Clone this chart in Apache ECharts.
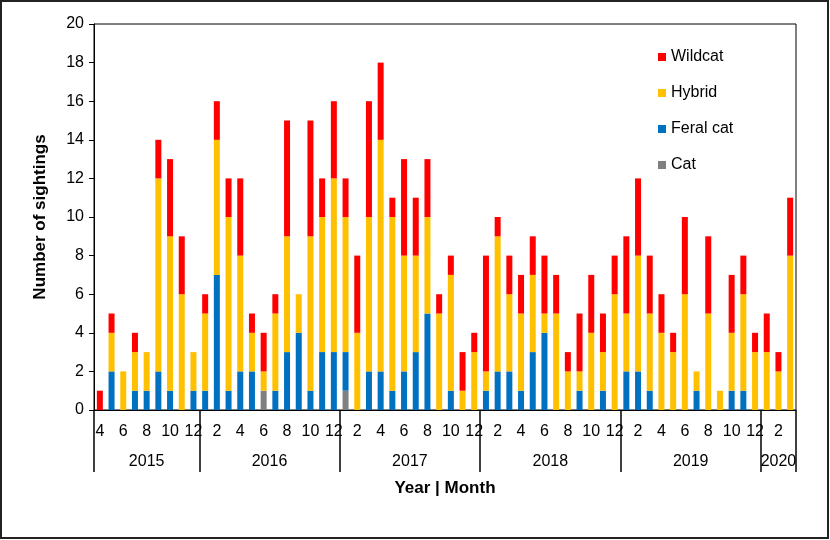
<!DOCTYPE html>
<html>
<head>
<meta charset="utf-8">
<script src="https://cdn.jsdelivr.net/npm/echarts@6/dist/echarts.min.js"></script>
<style>
  html, body { margin: 0; padding: 0; background: #fff; }
  #main { width: 830px; height: 540px; }
</style>
</head>
<body>
<div id="main"></div>
<script>
// months Apr 2015 .. Mar 2020
const years = ['2015', '2016', '2017', '2018', '2019', '2020'];
const monthsInYear = [9, 12, 12, 12, 12, 3];
const firstMonth = 4;

const cat = [
  0, 0, 0, 0, 0, 0, 0, 0, 0,
  0, 0, 0, 0, 0, 1, 0, 0, 0, 0, 0, 0,
  1, 0, 0, 0, 0, 0, 0, 0, 0, 0, 0, 0,
  0, 0, 0, 0, 0, 0, 0, 0, 0, 0, 0, 0,
  0, 0, 0, 0, 0, 0, 0, 0, 0, 0, 0, 0,
  0, 0, 0
];
const feralCat = [
  0, 2, 0, 1, 1, 2, 1, 0, 1,
  1, 7, 1, 2, 2, 0, 1, 3, 4, 1, 3, 3,
  2, 0, 2, 2, 1, 2, 3, 5, 0, 1, 0, 0,
  1, 2, 2, 1, 3, 4, 0, 0, 1, 0, 1, 0,
  2, 2, 1, 0, 0, 0, 1, 0, 0, 1, 1, 0,
  0, 0, 0
];
const hybrid = [
  0, 2, 2, 2, 2, 10, 8, 6, 2,
  4, 7, 9, 6, 2, 1, 4, 6, 2, 8, 7, 9,
  7, 4, 8, 12, 9, 6, 5, 5, 5, 6, 1, 3,
  1, 7, 4, 4, 4, 1, 5, 2, 1, 4, 2, 6,
  3, 6, 4, 4, 3, 6, 1, 5, 1, 3, 5, 3,
  3, 2, 8
];
const wildcat = [
  1, 1, 0, 1, 0, 2, 4, 3, 0,
  1, 2, 2, 4, 1, 2, 1, 6, 0, 6, 2, 4,
  2, 4, 6, 4, 1, 5, 3, 3, 1, 1, 2, 1,
  6, 1, 2, 2, 2, 3, 2, 1, 3, 3, 2, 2,
  4, 4, 3, 2, 1, 4, 0, 4, 0, 3, 2, 1,
  2, 1, 3
];

// month categories and the half-month grid used for the year row
const monthCats = [];
const monthNums = [];
const yearPoints = [];
const yearBounds = [0];
let m = 0;
years.forEach((y, yi) => {
  const start = yi === 0 ? firstMonth : 1;
  for (let k = 0; k < monthsInYear[yi]; k++) {
    monthCats.push(y + '-' + (start + k));
    monthNums.push(start + k);
  }
  m += monthsInYear[yi];
  yearBounds.push(m * 2);
});
for (let i = 0; i <= m * 2; i++) yearPoints.push('');
let acc = 0;
years.forEach((y, yi) => {
  yearPoints[acc * 2 + monthsInYear[yi]] = y;
  acc += monthsInYear[yi];
});

const font = 'Liberation Sans, Arial, sans-serif';

const chart = echarts.init(document.getElementById('main'));
const mkSeries = (name, data, color) => ({
  name: name,
  type: 'bar',
  stack: 'all',
  data: data,
  barWidth: 6,
  itemStyle: { color: color },
  xAxisIndex: 0
});

chart.setOption({
  animation: false,
  textStyle: { fontFamily: font },
  grid: {
    left: 94, right: 34, top: 24, bottom: 130,
    show: true, borderColor: '#000', borderWidth: 1
  },
  legend: {
    orient: 'vertical',
    left: 653,
    top: 44,
    itemWidth: 8,
    itemHeight: 8,
    itemGap: 20,
    icon: 'rect',
    data: ['Wildcat', 'Hybrid', 'Feral cat', 'Cat'],
    textStyle: { fontSize: 16, color: '#000', fontFamily: font }
  },
  xAxis: [
    {
      type: 'category',
      position: 'bottom',
      data: monthCats,
      axisLine: { onZero: false, lineStyle: { color: '#000', width: 1 } },
      axisTick: { interval: 0, length: 4, lineStyle: { color: '#000' } },
      axisLabel: {
        interval: 0,
        margin: 14,
        fontSize: 16,
        color: '#000',
        formatter: (v, i) => (monthNums[i] % 2 === 0 ? String(monthNums[i]) : '')
      }
    },
    {
      type: 'category',
      position: 'bottom',
      boundaryGap: false,
      data: yearPoints,
      axisLine: { show: false, onZero: false },
      axisTick: {
        show: true,
        length: 62,
        interval: (i) => yearBounds.indexOf(i) >= 0,
        lineStyle: { color: '#000', width: 1.5 }
      },
      axisLabel: { interval: 0, margin: 44, fontSize: 16, color: '#000' },
      name: 'Year | Month',
      nameLocation: 'middle',
      nameGap: 70,
      nameTextStyle: { fontSize: 17, fontWeight: 'bold', color: '#000' }
    }
  ],
  yAxis: {
    type: 'value',
    min: 0,
    max: 20,
    interval: 2,
    splitLine: { show: false },
    axisLine: { show: true, lineStyle: { color: '#000' } },
    axisTick: { show: true, length: 5, lineStyle: { color: '#000' } },
    axisLabel: { fontSize: 16, color: '#000', margin: 10 },
    name: 'Number of sightings',
    nameLocation: 'middle',
    nameGap: 45,
    nameTextStyle: { fontSize: 17, fontWeight: 'bold', color: '#000' }
  },
  graphic: [{
    type: 'rect',
    shape: { x: 1, y: 1, width: 827, height: 537 },
    style: { fill: 'none', stroke: '#222', lineWidth: 2 },
    silent: true
  }],
  series: [
    mkSeries('Cat', cat, '#808080'),
    mkSeries('Feral cat', feralCat, '#0070C0'),
    mkSeries('Hybrid', hybrid, '#FFC000'),
    mkSeries('Wildcat', wildcat, '#FF0000')
  ]
});
</script>
</body>
</html>
